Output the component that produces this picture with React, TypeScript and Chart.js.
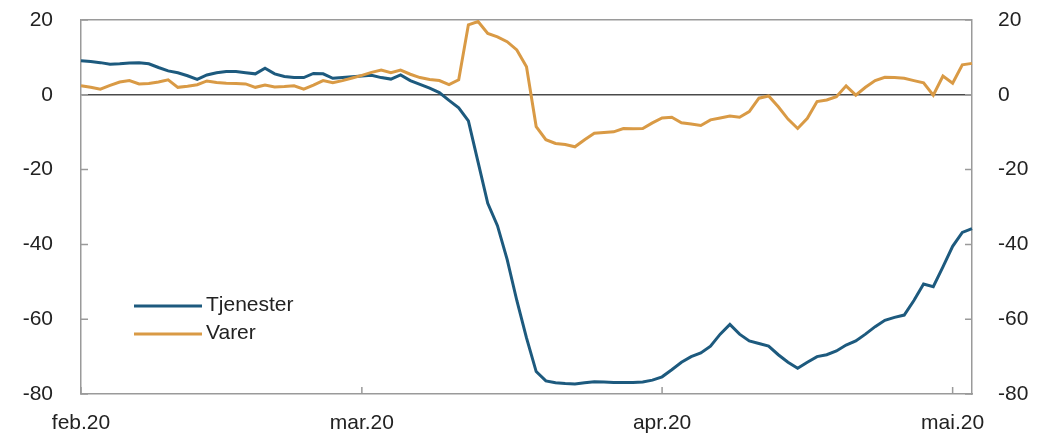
import React, { useEffect, useRef } from "react";
import { Chart, registerables } from "chart.js";

Chart.register(...registerables);

// Daily dates, 1 Feb 2020 – 3 May 2020
const dates: string[] = [
  "02-01","02-02","02-03","02-04","02-05","02-06","02-07","02-08","02-09","02-10",
  "02-11","02-12","02-13","02-14","02-15","02-16","02-17","02-18","02-19","02-20",
  "02-21","02-22","02-23","02-24","02-25","02-26","02-27","02-28","02-29",
  "03-01","03-02","03-03","03-04","03-05","03-06","03-07","03-08","03-09","03-10",
  "03-11","03-12","03-13","03-14","03-15","03-16","03-17","03-18","03-19","03-20",
  "03-21","03-22","03-23","03-24","03-25","03-26","03-27","03-28","03-29","03-30","03-31",
  "04-01","04-02","04-03","04-04","04-05","04-06","04-07","04-08","04-09","04-10",
  "04-11","04-12","04-13","04-14","04-15","04-16","04-17","04-18","04-19","04-20",
  "04-21","04-22","04-23","04-24","04-25","04-26","04-27","04-28","04-29","04-30",
  "05-01","05-02","05-03",
];

const tickDates: string[] = ["02-01", "03-01", "04-01", "05-01"];
const tickLabels: string[] = ["feb.20", "mar.20", "apr.20", "mai.20"];

const tjenester: number[] = [
  9.1, 8.9, 8.6, 8.2, 8.3, 8.5, 8.6, 8.3, 7.3, 6.4,
  5.9, 5.1, 4.1, 5.3, 5.9, 6.2, 6.2, 5.9, 5.6, 7.1,
  5.6, 4.9, 4.6, 4.6, 5.7, 5.6, 4.4, 4.6, 4.8, 5.0,
  5.2, 4.6, 4.2, 5.3, 3.8, 2.8, 1.8, 0.6, -1.5, -3.5,
  -7, -18, -29, -35, -44, -55, -65, -74, -76.5, -77,
  -77.2, -77.3, -77, -76.7, -76.8, -76.9, -76.9, -76.9, -76.8, -76.3,
  -75.4, -73.5, -71.5, -70, -69, -67.2, -64, -61.4, -64, -65.8,
  -66.5, -67.2, -69.5, -71.5, -73.1, -71.5, -70, -69.5, -68.5, -66.9,
  -65.8, -64, -62, -60.3, -59.5, -58.9, -55, -50.6, -51.3, -46,
  -40.5, -36.8, -35.8,
];

const varer: number[] = [
  2.4, 2.0, 1.5, 2.5, 3.4, 3.8, 2.9, 3.0, 3.4, 4.0,
  2.0, 2.3, 2.7, 3.7, 3.3, 3.1, 3.0, 2.9, 2.0, 2.6,
  2.1, 2.2, 2.4, 1.5, 2.6, 3.8, 3.2, 3.8, 4.5, 5.2,
  6.0, 6.6, 5.9, 6.6, 5.5, 4.6, 4.1, 3.8, 2.7, 4.0,
  18.7, 19.6, 16.4, 15.5, 14.2, 12.0, 7.5, -8.5, -12, -13,
  -13.3, -13.9, -12, -10.3, -10.1, -9.9, -9.0, -9.1, -9.0, -7.5,
  -6.2, -6.0, -7.5, -7.8, -8.2, -6.7, -6.2, -5.7, -6.0, -4.5,
  -0.9, -0.3, -3.2, -6.5, -9.0, -6.3, -1.8, -1.4, -0.5, 2.4,
  -0.1, 2.0, 3.8, 4.7, 4.6, 4.4, 3.8, 3.2, -0.1, 5.0,
  3.1, 8.0, 8.4,
];

const seriesNames: string[] = ["Tjenester", "Varer"];
const seriesColors: string[] = ["#1d5a7e", "#d99a45"];

const FONT = "'Liberation Sans', Arial, sans-serif";
const FONT_SIZE = 21;
const TEXT = "#222222";
const FRAME = "#9a9a9a";
const CLEAR = "rgba(0,0,0,0)";

const innerTicks = {
  id: "innerTicks",
  afterDatasetsDraw(chart: any) {
    const { ctx, chartArea } = chart;
    const x = chart.scales.x;
    const y = chart.scales.y;
    const len = 7;
    ctx.save();
    ctx.strokeStyle = FRAME;
    ctx.lineWidth = 1.5;
    ctx.beginPath();
    x.ticks.forEach((t: any) => {
      const px = x.getPixelForValue(t.value);
      ctx.moveTo(px, chartArea.bottom);
      ctx.lineTo(px, chartArea.bottom - len);
    });
    y.ticks.forEach((t: any) => {
      const py = y.getPixelForValue(t.value);
      ctx.moveTo(chartArea.left, py);
      ctx.lineTo(chartArea.left + len, py);
      ctx.moveTo(chartArea.right, py);
      ctx.lineTo(chartArea.right - len, py);
    });
    ctx.stroke();
    ctx.restore();
  },
};

const innerLegend = {
  id: "innerLegend",
  afterDraw(chart: any) {
    const { ctx } = chart;
    const items = chart.data.datasets;
    const x0 = 134;
    const x1 = 202;
    const ys = [306, 334];
    ctx.save();
    items.forEach((ds: any, i: number) => {
      ctx.strokeStyle = ds.borderColor;
      ctx.lineWidth = 3;
      ctx.beginPath();
      ctx.moveTo(x0, ys[i]);
      ctx.lineTo(x1, ys[i]);
      ctx.stroke();
      ctx.fillStyle = TEXT;
      ctx.font = `${FONT_SIZE}px ${FONT}`;
      ctx.textBaseline = "middle";
      ctx.textAlign = "left";
      ctx.fillText(ds.label, 206, ys[i] - 1);
    });
    ctx.restore();
  },
};

export default function App() {
  const canvasRef = useRef<HTMLCanvasElement | null>(null);

  useEffect(() => {
    document.body.style.margin = "0";
    const canvas = canvasRef.current;
    if (!canvas) return;

    const chart = new Chart(canvas, {
      type: "line",
      data: {
        labels: dates,
        datasets: [
          {
            label: seriesNames[0],
            data: tjenester,
            borderColor: seriesColors[0],
            backgroundColor: seriesColors[0],
            borderWidth: 3,
            pointRadius: 0,
            tension: 0,
            yAxisID: "y",
            order: 2,
          },
          {
            label: seriesNames[1],
            data: varer,
            borderColor: seriesColors[1],
            backgroundColor: seriesColors[1],
            borderWidth: 3,
            pointRadius: 0,
            tension: 0,
            yAxisID: "y",
            order: 1,
          },
        ],
      },
      options: {
        animation: false,
        responsive: true,
        maintainAspectRatio: false,
        layout: { padding: { top: 20, left: 0, right: 0, bottom: 0 } },
        plugins: {
          legend: { display: false },
          tooltip: { enabled: false },
        },
        scales: {
          x: {
            type: "category",
            offset: false,
            grid: { display: false },
            border: { display: true, color: FRAME, width: 1.5 },
            afterBuildTicks: (scale: any) => {
              scale.ticks = tickDates.map((d) => ({ value: dates.indexOf(d) }));
            },
            afterFit: (scale: any) => {
              scale.height = 40;
            },
            ticks: {
              autoSkip: false,
              maxRotation: 0,
              minRotation: 0,
              padding: 9,
              color: TEXT,
              font: { family: FONT, size: FONT_SIZE },
              callback: (value: any) => tickLabels[tickDates.indexOf(dates[value as number])],
            },
          },
          y: {
            position: "left",
            min: -80,
            max: 20,
            grid: {
              drawTicks: true,
              tickLength: 28,
              tickColor: CLEAR,
              color: (ctx: any) =>
                ctx.tick && ctx.tick.value === 0 ? "#4a4a4a" : ctx.tick && ctx.tick.value === 20 ? FRAME : CLEAR,
              lineWidth: 1.5,
            },
            border: { display: true, color: FRAME, width: 1.5 },
            afterFit: (scale: any) => {
              scale.width = 81;
            },
            ticks: {
              stepSize: 20,
              padding: 0,
              color: TEXT,
              font: { family: FONT, size: FONT_SIZE },
            },
          },
          y2: {
            position: "right",
            min: -80,
            max: 20,
            grid: { drawOnChartArea: false, drawTicks: true, tickLength: 26, tickColor: CLEAR },
            border: { display: true, color: FRAME, width: 1.5 },
            afterFit: (scale: any) => {
              scale.width = 65;
            },
            ticks: {
              stepSize: 20,
              padding: 0,
              color: TEXT,
              font: { family: FONT, size: FONT_SIZE },
            },
          },
        },
      },
      plugins: [innerTicks, innerLegend],
    });

    return () => {
      chart.destroy();
    };
  }, []);

  return (
    <div style={{ position: "relative", width: "1037px", height: "434px" }}>
      <canvas ref={canvasRef} />
    </div>
  );
}
